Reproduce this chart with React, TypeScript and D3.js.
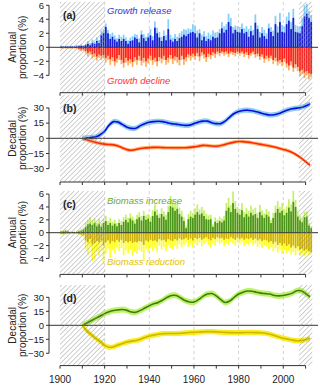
import * as d3 from "d3";
import { useEffect, useRef } from "react";

// years for the annual bars
const years = d3.range(1900, 2013);

// (a) growth release: total (light) and strong part (dark), % per year
const releaseTotal = [
  0.2, 0.2, 0.2, 0.2, 0.2, 0.2, 0.2, 0.3, 0.3, 0.4,
  0.3, 0.5, 0.9, 0.6, 1.1, 0.8, 1.4, 1.0, 2.4, 2.6,
  3.4, 2.5, 1.9, 2.1, 1.7, 1.3, 1.8, 1.5, 1.8, 1.4,
  1.0, 1.4, 1.6, 1.9, 1.8, 1.3, 2.4, 1.9, 1.5, 2.0,
  2.6, 1.6, 3.7, 2.8, 2.2, 1.5, 2.4, 1.7, 4.0, 1.8,
  1.4, 1.9, 1.5, 2.0, 2.3, 2.6, 2.5, 2.7, 2.6, 3.3,
  3.1, 2.4, 2.6, 1.8, 2.3, 1.6, 2.1, 1.8, 2.4, 2.1,
  2.2, 2.6, 3.6, 3.0, 3.3, 4.8, 4.2, 2.9, 3.1, 3.0,
  2.9, 3.4, 2.7, 3.0, 2.6, 3.1, 2.5, 4.7, 3.1, 2.2,
  2.9, 2.5, 2.0, 3.4, 2.9, 2.4, 4.5, 3.0, 4.9, 3.2,
  3.0, 4.4, 5.0, 3.6, 5.5, 3.2, 3.0, 3.0, 4.2, 6.0,
  6.2, 5.2, 4.6,
];
const releaseStrong = [
  0.1, 0.1, 0.1, 0.1, 0.1, 0.1, 0.1, 0.1, 0.2, 0.2,
  0.2, 0.3, 0.5, 0.3, 0.6, 0.5, 0.9, 0.6, 1.7, 2.0,
  2.9, 2.0, 1.2, 1.5, 1.1, 0.8, 1.2, 0.9, 1.2, 0.9,
  0.5, 0.9, 1.0, 1.4, 1.2, 0.7, 1.8, 1.3, 0.9, 1.4,
  1.7, 1.0, 2.8, 2.0, 1.4, 0.9, 1.6, 1.0, 2.6, 1.1,
  0.8, 1.2, 0.9, 1.3, 1.5, 1.8, 1.6, 1.9, 2.1, 2.2,
  2.0, 1.4, 2.0, 1.0, 1.5, 0.9, 1.2, 1.0, 1.5, 1.3,
  1.4, 2.0, 2.7, 2.1, 2.5, 3.6, 3.0, 2.0, 2.5, 2.2,
  2.1, 2.6, 2.0, 2.2, 1.5, 2.3, 1.7, 3.5, 2.6, 1.4,
  2.0, 1.6, 1.2, 2.7, 2.2, 1.6, 3.3, 2.1, 3.6, 2.2,
  2.1, 3.3, 3.8, 2.6, 4.2, 2.2, 2.1, 2.0, 3.0, 4.4,
  4.8, 4.2, 3.6,
];

// (a) growth decline: total (light) and strong part (dark)
const declineTotal = [
  0.2, 0.2, 0.2, 0.2, 0.2, 0.2, 0.2, 0.2, 0.4, 0.6,
  0.5, 0.9, 1.3, 1.0, 1.6, 1.4, 1.9, 1.5, 1.8, 1.6,
  2.2, 1.8, 2.5, 2.0, 2.7, 2.2, 1.8, 2.4, 2.9, 2.2,
  2.6, 2.3, 2.8, 2.0, 2.5, 1.9, 2.6, 2.2, 2.8, 2.3,
  1.9, 2.5, 2.1, 2.7, 2.0, 2.3, 1.8, 2.5, 2.2, 1.7,
  2.4, 1.9, 2.2, 2.6, 1.8, 2.5, 2.0, 1.5, 1.9, 1.4,
  1.8, 1.3, 2.0, 1.2, 1.6, 2.1, 1.4, 1.7, 1.2, 1.5,
  1.0, 1.3, 0.9, 1.2, 1.0, 1.4, 0.9, 1.1, 1.3, 1.0,
  1.2, 0.9, 1.4, 1.1, 1.6, 1.2, 1.0, 1.5, 1.3, 1.8,
  1.4, 2.2, 1.7, 2.0, 1.6, 2.4, 2.0, 2.6, 2.3, 2.7,
  2.1, 2.9, 3.3, 2.6, 3.5, 3.0, 3.4, 4.1, 3.8, 4.4,
  4.0, 4.6, 4.3,
];
const declineStrong = [
  0.1, 0.1, 0.1, 0.1, 0.1, 0.1, 0.1, 0.1, 0.2, 0.3,
  0.3, 0.5, 0.8, 0.6, 1.0, 0.9, 1.3, 1.0, 1.2, 1.1,
  1.5, 1.2, 1.7, 1.4, 2.0, 1.6, 1.1, 1.8, 2.2, 1.5,
  1.9, 1.7, 2.1, 1.4, 1.8, 1.2, 1.9, 1.5, 2.0, 1.6,
  1.2, 1.8, 1.5, 2.0, 1.4, 1.6, 1.2, 1.8, 1.5, 1.1,
  1.6, 1.3, 1.4, 1.8, 1.2, 1.7, 1.4, 1.0, 1.2, 0.9,
  1.2, 0.8, 1.3, 0.7, 1.0, 1.4, 0.9, 1.1, 0.7, 0.9,
  0.6, 0.8, 0.6, 0.7, 0.6, 0.9, 0.6, 0.7, 0.8, 0.6,
  0.8, 0.6, 0.9, 0.7, 1.1, 0.8, 0.6, 1.0, 0.9, 1.3,
  1.0, 1.6, 1.2, 1.5, 1.2, 1.8, 1.5, 2.0, 1.8, 2.1,
  1.6, 2.3, 2.6, 2.0, 2.9, 2.4, 2.8, 3.4, 3.2, 3.6,
  3.4, 3.7, 3.8,
];

// (c) biomass increase: total (light) and strong part (dark)
const increaseTotal = [
  0.3, 0.4, 0.5, 0.4, 0.2, 0.2, 0.2, 0.3, 0.4, 0.6,
  0.8, 1.6, 2.0, 2.4, 1.9, 2.2, 1.6, 2.1, 1.5, 2.2,
  2.6, 1.8, 2.3, 1.7, 2.0, 1.5, 2.1, 1.8, 2.4, 2.8,
  2.3, 3.0, 2.5, 2.0, 2.8, 3.2, 2.6, 3.4, 2.7, 2.9,
  2.4, 3.5, 4.4, 3.6, 3.0, 3.8, 3.3, 2.8, 4.2, 5.7,
  5.0, 4.6, 4.8, 3.9, 3.4, 2.4, 1.1, 2.9, 3.4, 3.1,
  3.8, 4.4, 3.6, 4.0, 3.5, 2.9, 2.7, 2.8, 1.3, 2.4,
  2.0, 2.5, 2.2, 2.6, 4.6, 5.4, 4.3, 6.4, 4.9, 4.0,
  3.7, 4.6, 3.2, 3.8, 3.4, 4.2, 3.6, 3.9, 3.1, 4.3,
  3.5, 3.0, 3.7, 3.3, 2.0, 3.1, 4.2, 4.9, 4.0, 4.6,
  3.6, 4.1, 5.2, 4.4, 6.5, 5.1, 3.4, 2.6, 2.2, 3.2,
  3.3, 1.6, 1.0,
];
const increaseStrong = [
  0.2, 0.2, 0.3, 0.2, 0.1, 0.1, 0.1, 0.1, 0.2, 0.3,
  0.5, 0.9, 1.3, 1.4, 1.2, 1.5, 1.0, 1.3, 0.9, 1.5,
  1.8, 1.2, 1.5, 1.1, 1.4, 1.0, 1.5, 1.2, 1.7, 2.0,
  1.6, 2.2, 1.9, 1.4, 2.1, 2.4, 1.9, 2.6, 2.0, 2.2,
  1.7, 2.6, 3.3, 2.7, 2.3, 2.9, 2.5, 2.0, 3.2, 4.1,
  3.9, 3.4, 3.7, 2.9, 2.5, 1.8, 0.7, 2.1, 2.5, 2.3,
  2.8, 3.2, 2.8, 3.0, 2.6, 2.1, 2.0, 2.1, 0.9, 1.7,
  1.5, 1.8, 1.6, 1.9, 3.4, 3.9, 3.2, 4.6, 3.7, 3.1,
  2.8, 3.5, 2.4, 2.9, 2.5, 3.1, 2.7, 2.9, 2.3, 3.2,
  2.7, 2.3, 2.8, 2.5, 1.5, 2.3, 3.1, 3.7, 3.1, 3.4,
  2.7, 3.1, 3.9, 3.3, 4.8, 4.0, 2.5, 1.9, 1.6, 2.4,
  2.5, 1.1, 0.7,
];

// (c) biomass reduction: total (light) and strong part (dark)
const reductionTotal = [
  0.3, 0.4, 0.3, 0.2, 0.2, 0.2, 0.2, 0.2, 0.3, 0.5,
  0.7, 2.6, 3.4, 2.2, 4.4, 4.2, 3.0, 3.6, 2.8, 4.8,
  3.3, 2.5, 3.9, 2.7, 3.2, 2.3, 2.9, 2.4, 3.5, 2.8,
  3.2, 2.6, 3.6, 2.9, 3.3, 2.7, 3.0, 4.4, 2.5, 3.0,
  2.2, 2.8, 2.4, 3.1, 2.0, 2.6, 2.2, 2.9, 1.9, 2.4,
  2.7, 2.0, 2.5, 1.8, 2.3, 1.9, 1.5, 2.2, 1.8, 2.3,
  1.6, 2.0, 1.5, 2.1, 1.7, 1.3, 1.9, 2.3, 1.6, 2.0,
  1.4, 1.8, 1.5, 2.1, 1.6, 1.9, 1.3, 1.7, 2.0, 1.5,
  1.8, 1.4, 2.1, 1.6, 1.9, 1.5, 2.0, 1.7, 2.2, 1.8,
  2.4, 1.9, 2.1, 2.6, 2.2, 2.9, 2.4, 3.1, 2.6, 3.3,
  2.7, 3.2, 2.8, 3.4, 3.0, 3.5, 2.9, 3.6, 3.3, 3.7,
  3.2, 3.5, 3.4,
];
const reductionStrong = [
  0.2, 0.2, 0.2, 0.1, 0.1, 0.1, 0.1, 0.1, 0.2, 0.3,
  0.4, 1.2, 1.5, 1.0, 1.8, 1.6, 1.3, 1.5, 1.2, 2.0,
  1.5, 1.2, 1.7, 1.3, 1.5, 1.1, 1.4, 1.1, 1.6, 1.3,
  1.5, 1.3, 1.6, 1.4, 1.5, 1.3, 1.4, 1.9, 1.2, 1.4,
  1.1, 1.3, 1.2, 1.4, 1.0, 1.2, 1.1, 1.4, 1.0, 1.2,
  1.3, 1.0, 1.2, 0.9, 1.1, 1.0, 0.8, 1.1, 0.9, 1.2,
  0.8, 1.0, 0.8, 1.1, 0.9, 0.7, 1.0, 1.2, 0.8, 1.0,
  0.7, 0.9, 0.8, 1.1, 0.9, 1.0, 0.7, 0.9, 1.1, 0.8,
  1.0, 0.8, 1.1, 0.9, 1.0, 0.8, 1.1, 0.9, 1.2, 1.0,
  1.3, 1.1, 1.2, 1.5, 1.3, 1.7, 1.4, 1.9, 1.6, 2.0,
  1.7, 2.1, 1.8, 2.3, 2.0, 2.4, 2.1, 2.6, 2.5, 2.8,
  2.6, 2.9, 3.0,
];

// decadal proportions (%), every second year
const decadeYears = d3.range(1910, 2013, 2);
const releaseDecadal = [
  0, 0.3, 0.8, 1.5, 3.5, 7, 13, 16.5, 16, 13.5,
  11, 9.8, 10, 12.5, 14.5, 15.8, 16.5, 16.8, 16.5, 15.5,
  14.5, 14, 13.3, 12.8, 13, 14.5, 16, 17, 17, 15.5,
  14.5, 14.5, 17, 21, 24.5, 26.5, 27.5, 27.8, 27.3, 26.2,
  25, 23.8, 23, 23.3, 24.5, 26.3, 28, 29.2, 29.8, 30.5,
  32, 34,
];
const declineDecadal = [
  0, -1.5, -3, -4, -5, -5.8, -6.2, -6.5, -7.5, -9.5,
  -11.2, -11.8, -11, -10, -9.5, -9.2, -9, -9, -9.2, -9.3,
  -9.4, -9.4, -9.4, -9.3, -9, -8.5, -7.8, -7, -7.2, -7.6,
  -7.8, -7.2, -6, -4.8, -3.8, -3.2, -3.3, -3.8, -4.4, -5.2,
  -6, -6.8, -7.6, -8.6, -9.8, -11, -12.2, -14, -16.5, -19.5,
  -23, -26.5,
];
const increaseDecadal = [
  0, 2.5, 5, 7.5, 10, 12.5, 14.5, 15.8, 16.5, 17,
  16, 14.2, 14, 16, 18.5, 21, 23, 24.5, 27, 30,
  32, 32, 29.5, 26.5, 25, 25, 27.5, 31, 33.5, 34,
  31.5, 27.5, 24.5, 26, 30, 33.5, 35.5, 36.8, 36.5, 35.5,
  34.5, 34, 33.5, 32, 31.5, 32, 33, 34.5, 37, 37,
  34, 30.5,
];
const reductionDecadal = [
  0, -6, -10, -14, -17.5, -21.5, -23.5, -23, -21, -19.5,
  -18, -17, -16.3, -15, -13, -11.5, -10.5, -9.6, -9, -8.8,
  -8.8, -8.8, -8.6, -8.2, -7.8, -7.5, -7.2, -7, -6.8, -6.8,
  -7, -7.3, -7.6, -7.8, -7.9, -7.9, -7.8, -7.7, -7.7, -7.8,
  -8, -8.5, -9.5, -11, -12.5, -13.8, -14.8, -15.8, -16.5, -16.5,
  -15.5, -14,
];

const xTicks = d3.range(1900, 2011, 10);
const xLabels = [1900, 1920, 1940, 1960, 1980, 2000];
const gridYears = [1920, 1940, 1960, 1980, 2000];
const hatchSpans = [
  [1900, 1920],
  [2007, 2013],
];
const annualTicks = [6, 4, 2, 0, -2, -4];
const decadalTicks = [30, 15, 0, -15, -30];

const FONT = "'Liberation Sans', Arial, Helvetica, sans-serif";
const W = 320;
const H = 387;

const panels = [
  {
    kind: "bar", label: "(a)", top: 1.9, bottom: 92.7, lim: 6.48, ticks: annualTicks,
    title: ["Annual", "proportion (%)"],
    pos: [releaseTotal, releaseStrong], neg: [declineTotal, declineStrong],
    posCol: ["#87cefa", "#1c1cd0"], negCol: ["#ffae5e", "#ff2222"],
    posText: "Growth release", negText: "Growth decline",
    posTextCol: "#3434d2", negTextCol: "#ff3030",
  },
  {
    kind: "line", label: "(b)", top: 94.6, bottom: 182, lim: 43.2, ticks: decadalTicks,
    title: ["Decadal", "proportion (%)"],
    up: releaseDecadal, down: declineDecadal,
    upCol: ["#7cc6f2", "#0a0ae0"], downCol: ["#ffaa60", "#ff2a00"], band: [2.6, 1.8],
  },
  {
    kind: "bar", label: "(c)", top: 191, bottom: 274.4, lim: 6.48, ticks: annualTicks,
    title: ["Annual", "proportion (%)"],
    pos: [increaseTotal, increaseStrong], neg: [reductionTotal, reductionStrong],
    posCol: ["#c6f06a", "#4b951c"], negCol: ["#ffff30", "#cdb010"],
    posText: "Biomass increase", negText: "Biomass reduction",
    posTextCol: "#6ea82c", negTextCol: "#e2c200",
  },
  {
    kind: "line", label: "(d)", top: 285, bottom: 365.6, lim: 43.2, ticks: decadalTicks,
    title: ["Decadal", "proportion (%)"],
    up: increaseDecadal, down: reductionDecadal,
    upCol: ["#b6ee50", "#3a7e10"], downCol: ["#f4ec00", "#d2b400"], band: [3.2, 2.8],
  },
];

const App = () => {
  const svgRef = useRef(null);

  useEffect(() => {
    const svg = d3.select(svgRef.current);
    svg.selectAll("*").remove();

    const x = d3.scaleLinear().domain([1900, 2010]).range([60, 305.6]);
    const plotLeft = 49;
    const plotRight = 318;

    // hatch pattern
    const defs = svg.append("defs");
    const pat = defs
      .append("pattern")
      .attr("id", "hatch")
      .attr("patternUnits", "userSpaceOnUse")
      .attr("width", 3.4)
      .attr("height", 3.4)
      .attr("patternTransform", "rotate(45)");
    pat
      .append("line")
      .attr("x1", 0).attr("y1", 0).attr("x2", 0).attr("y2", 3.4)
      .attr("stroke", "#8e8e8e")
      .attr("stroke-width", 0.85);

    panels.forEach((p) => {
      const y = d3.scaleLinear().domain([-p.lim, p.lim]).range([p.bottom, p.top]);
      const g = svg.append("g");

      // dashed grid
      g.selectAll(".grid")
        .data(gridYears)
        .enter()
        .append("line")
        .attr("x1", (d) => x(d)).attr("x2", (d) => x(d))
        .attr("y1", p.top).attr("y2", p.bottom)
        .attr("stroke", "#c8c8c8")
        .attr("stroke-width", 0.8)
        .attr("stroke-dasharray", "3,3");

      if (p.kind === "bar") {
        const bw = x(1901) - x(1900);
        const drawBars = (vals, sign, col) => {
          g.append("g")
            .selectAll("rect")
            .data(years)
            .enter()
            .append("rect")
            .attr("x", (d) => x(d) + 0.25)
            .attr("width", bw - 0.5)
            .attr("y", (d, i) => (sign > 0 ? y(vals[i]) : y(0)))
            .attr("height", (d, i) => Math.abs(y(0) - y(vals[i])))
            .attr("fill", col);
        };
        drawBars(p.pos[0], 1, p.posCol[0]);
        drawBars(p.pos[1], 1, p.posCol[1]);
        drawBars(p.neg[0], -1, p.negCol[0]);
        drawBars(p.neg[1], -1, p.negCol[1]);
      } else {
        const curve = d3.curveCatmullRom;
        const drawSeries = (vals, col, hw) => {
          const area = d3
            .area()
            .x((d, i) => x(decadeYears[i]))
            .y0((d) => y(d - hw))
            .y1((d) => y(d + hw))
            .curve(curve);
          g.append("path").attr("d", area(vals)).attr("fill", col[0]).attr("opacity", 0.85);
          const line = d3
            .line()
            .x((d, i) => x(decadeYears[i]))
            .y((d) => y(d))
            .curve(curve);
          g.append("path")
            .attr("d", line(vals))
            .attr("fill", "none")
            .attr("stroke", col[1])
            .attr("stroke-width", 1.6);
        };
        drawSeries(p.up, p.upCol, p.band[0]);
        drawSeries(p.down, p.downCol, p.band[1]);
      }

      // zero line
      g.append("line")
        .attr("x1", plotLeft).attr("x2", plotRight)
        .attr("y1", y(0)).attr("y2", y(0))
        .attr("stroke", "#333")
        .attr("stroke-width", 1);

      // hatched periods
      g.selectAll(".hatch")
        .data(hatchSpans)
        .enter()
        .append("rect")
        .attr("x", (d) => x(d[0]))
        .attr("width", (d) => x(d[1]) - x(d[0]))
        .attr("y", p.top)
        .attr("height", p.bottom - p.top)
        .attr("fill", "url(#hatch)");

      // y axis
      const ya = g.append("g").attr("font-family", FONT).attr("font-size", 9.5);
      ya.append("line")
        .attr("x1", plotLeft).attr("x2", plotLeft)
        .attr("y1", y(p.ticks[0])).attr("y2", y(p.ticks[p.ticks.length - 1]))
        .attr("stroke", "#333");
      p.ticks.forEach((t) => {
        ya.append("line")
          .attr("x1", plotLeft - 3).attr("x2", plotLeft)
          .attr("y1", y(t)).attr("y2", y(t))
          .attr("stroke", "#333");
        ya.append("text")
          .attr("x", plotLeft - 5)
          .attr("y", y(t))
          .attr("dy", "0.35em")
          .attr("text-anchor", "end")
          .attr("fill", "#222")
          .text(t < 0 ? `\u2212${-t}` : `${t}`);
      });

      // y title
      const cy = y(0);
      p.title.forEach((line, i) => {
        g.append("text")
          .attr("transform", `translate(${15.5 + i * 10},${cy}) rotate(-90)`)
          .attr("text-anchor", "middle")
          .attr("font-family", FONT)
          .attr("font-size", 10)
          .attr("fill", "#222")
          .text(line);
      });

      // x axis
      const xa = g.append("g");
      xa.append("line")
        .attr("x1", x(1900)).attr("x2", x(2010))
        .attr("y1", p.bottom).attr("y2", p.bottom)
        .attr("stroke", "#333");
      xa.selectAll(".tick")
        .data(xTicks)
        .enter()
        .append("line")
        .attr("x1", (d) => x(d)).attr("x2", (d) => x(d))
        .attr("y1", p.bottom).attr("y2", p.bottom + 3)
        .attr("stroke", "#333");

      // panel label
      g.append("text")
        .attr("x", 63)
        .attr("y", p.top + 17)
        .attr("font-family", FONT)
        .attr("font-weight", "bold")
        .attr("font-size", 10.5)
        .attr("fill", "#222")
        .text(p.label);

      if (p.kind === "bar") {
        g.append("text")
          .attr("x", 107)
          .attr("y", p.top + 12.5)
          .attr("font-family", FONT)
          .attr("font-style", "italic")
          .attr("font-size", 9.5)
          .attr("fill", p.posTextCol)
          .text(p.posText);
        g.append("text")
          .attr("x", 107)
          .attr("y", p.bottom - 9)
          .attr("font-family", FONT)
          .attr("font-style", "italic")
          .attr("font-size", 9.5)
          .attr("fill", p.negTextCol)
          .text(p.negText);
      }
    });

    // bottom year labels
    const last = panels[panels.length - 1];
    svg.append("g")
      .selectAll("text")
      .data(xLabels)
      .enter()
      .append("text")
      .attr("x", (d) => x(d))
      .attr("y", last.bottom + 17.5)
      .attr("text-anchor", "middle")
      .attr("font-family", FONT)
      .attr("font-size", 10)
      .attr("fill", "#222")
      .text((d) => d);
  }, []);

  return (
    <svg
      ref={svgRef}
      width={W}
      height={H}
      style={{ position: "absolute", left: 0, top: 0, background: "#fff" }}
    ></svg>
  );
};

export default App;
